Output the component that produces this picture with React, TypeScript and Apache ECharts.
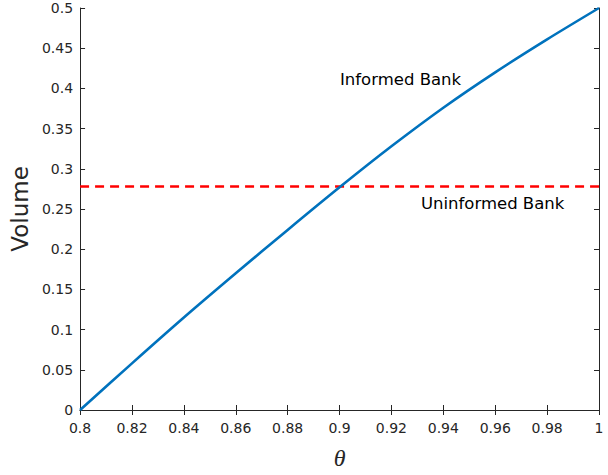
import React, { useEffect, useRef } from "react";
import * as echarts from "echarts";

const thetaValues = [0.8, 0.82, 0.84, 0.86, 0.88, 0.9, 0.92, 0.94, 0.96, 0.98, 1.0];
const informedVolume = [0, 0.058, 0.115, 0.17, 0.224, 0.277, 0.328, 0.376, 0.42, 0.461, 0.5];
const uninformedVolume = 0.278;
const xTicks = [0.8, 0.82, 0.84, 0.86, 0.88, 0.9, 0.92, 0.94, 0.96, 0.98, 1];
const yTicks = [0, 0.05, 0.1, 0.15, 0.2, 0.25, 0.3, 0.35, 0.4, 0.45, 0.5];
const informedLabel = { text: "Informed Bank", x: 0.9235, y: 0.411 };
const uninformedLabel = { text: "Uninformed Bank", x: 0.959, y: 0.257 };

const FONT = "DejaVu Sans";
const AX = "#262626";

export default function App() {
  const ref = useRef<HTMLDivElement>(null);
  useEffect(() => {
    document.body.style.margin = "0";
    const chart = echarts.init(ref.current!, null, { renderer: "svg" });
    const fmt = (v: number) => String(parseFloat(v.toFixed(2)));
    const baseX = {
      type: "value",
      min: 0.8,
      max: 1,
      interval: 0.02,
      splitLine: { show: false },
    };
    const baseY = {
      type: "value",
      min: 0,
      max: 0.5,
      interval: 0.05,
      splitLine: { show: false },
    };
    const annLabel = (text: string) => ({
      show: true,
      formatter: text,
      position: "inside",
      fontFamily: FONT,
      fontSize: 16.5,
      color: "#000000",
    });
    chart.setOption({
      animation: false,
      backgroundColor: "#ffffff",
      grid: { left: 79, right: 9, top: 8, bottom: 62, containLabel: false },
      xAxis: [
        {
          ...baseX,
          position: "bottom",
          axisLine: { show: true, lineStyle: { color: AX, width: 1 } },
          axisTick: { show: true, inside: true, length: 5, lineStyle: { color: AX } },
          axisLabel: {
            show: true,
            color: AX,
            fontFamily: FONT,
            fontSize: 14,
            margin: 11,
            formatter: (v: number) => (xTicks.some((t) => Math.abs(t - v) < 1e-9) ? fmt(v) : ""),
          },
          name: "θ",
          nameLocation: "middle",
          nameGap: 36,
          nameTextStyle: {
            fontFamily: "Liberation Serif",
            fontStyle: "italic",
            fontSize: 24,
            color: AX,
          },
        },
        {
          ...baseX,
          position: "top",
          axisLine: { show: true, lineStyle: { color: AX, width: 1 } },
          axisTick: { show: true, inside: true, length: 5, lineStyle: { color: AX } },
          axisLabel: { show: false },
        },
      ],
      yAxis: [
        {
          ...baseY,
          position: "left",
          axisLine: { show: true, lineStyle: { color: AX, width: 1 } },
          axisTick: { show: true, inside: true, length: 5, lineStyle: { color: AX } },
          axisLabel: {
            show: true,
            color: AX,
            fontFamily: FONT,
            fontSize: 14,
            margin: 7,
            formatter: (v: number) => (yTicks.some((t) => Math.abs(t - v) < 1e-9) ? fmt(v) : ""),
          },
          name: "Volume",
          nameLocation: "middle",
          nameGap: 47,
          nameRotate: 90,
          nameTextStyle: { fontFamily: FONT, fontSize: 23, color: AX },
        },
        {
          ...baseY,
          position: "right",
          axisLine: { show: true, lineStyle: { color: AX, width: 1 } },
          axisTick: { show: true, inside: true, length: 5, lineStyle: { color: AX } },
          axisLabel: { show: false },
        },
      ],
      series: [
        {
          type: "line",
          name: "Informed Bank",
          xAxisIndex: 0,
          yAxisIndex: 0,
          data: thetaValues.map((t, i) => [t, informedVolume[i]]),
          smooth: 0.3,
          showSymbol: false,
          symbol: "none",
          lineStyle: { color: "#0072BD", width: 2.6 },
          z: 3,
          markPoint: {
            symbol: "circle",
            symbolSize: 0,
            silent: true,
            data: [
              { coord: [informedLabel.x, informedLabel.y], label: annLabel(informedLabel.text) },
              { coord: [uninformedLabel.x, uninformedLabel.y], label: annLabel(uninformedLabel.text) },
            ],
          },
        },
        {
          type: "line",
          name: "Uninformed Bank",
          xAxisIndex: 0,
          yAxisIndex: 0,
          data: [
            [0.8, uninformedVolume],
            [1, uninformedVolume],
          ],
          showSymbol: false,
          symbol: "none",
          lineStyle: { color: "#FF0000", width: 2.6, type: [9, 6] },
          z: 2,
        },
      ],
    });
    return () => chart.dispose();
  }, []);
  return <div ref={ref} style={{ width: 608, height: 475 }} />;
}
